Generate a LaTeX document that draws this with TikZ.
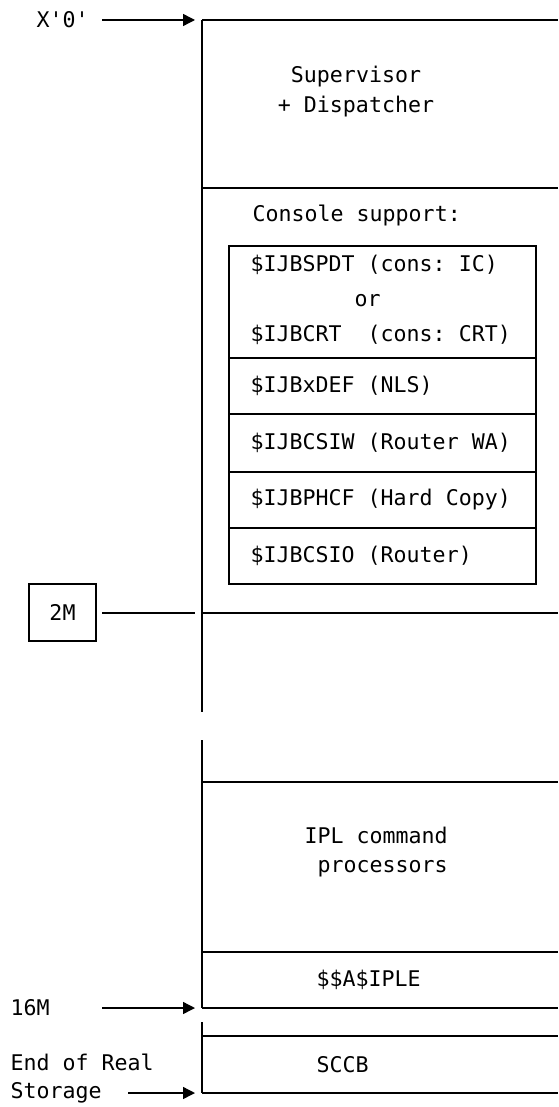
\documentclass[tikz,border=0pt]{standalone}
\usepackage{fontspec}
\setmonofont{DejaVu Sans Mono}
\usetikzlibrary{arrows.meta, positioning}

\begin{document}
\begin{tikzpicture}[
  x=0.5pt, y=-0.5pt, line width=0.7pt,
  txt/.style={inner sep=0pt, font=\ttfamily\fontsize{10.8}{15}\selectfont},
  ltxt/.style={txt, anchor=west, align=left},
  ptr/.style={-{Triangle[length=6pt, width=6pt]}}
]
  \useasboundingbox (0,0) rectangle (558,1107);

  % corners of the storage column
  \coordinate (m0) at (202,20);
  \coordinate (m2) at (202,613);
  \coordinate (m16) at (202,1008);
  \coordinate (mend) at (202,1093);

  % storage column
  \draw (m0) -- (558,20);
  \draw (m0) -- (202,712);
  \draw (202,740) -- (m16);
  \draw (202,1022) -- (mend);
  \draw (202,188) -- (558,188);
  \draw (m2) -- (558,613);
  \draw (202,782) -- (558,782);
  \draw (202,952) -- (558,952);
  \draw (m16) -- (558,1008);
  \draw (202,1036) -- (558,1036);
  \draw (mend) -- (558,1093);

  % console support modules
  \draw (229,246) rectangle (536,584);
  \foreach \y in {358,414,472,528}
    \draw (229,\y) -- (536,\y);

  \node[txt, align=center] (sup) at (356,92) {Supervisor\\+ Dispatcher};
  \node[ltxt] (con) at (252,215) {Console support:};
  \node[ltxt, font=\ttfamily\fontsize{10.8}{17.5}\selectfont] (spdt) at (250,300)
    {\$IJBSPDT (cons: IC)\\\hphantom{\$IJBSPDT}or\\\$IJBCRT\ \ (cons: CRT)};
  \node[ltxt] (xdef) at (250,386) {\$IJBxDEF (NLS)};
  \node[ltxt] (csiw) at (250,443) {\$IJBCSIW (Router WA)};
  \node[ltxt] (phcf) at (250,500) {\$IJBPHCF (Hard Copy)};
  \node[ltxt] (csio) at (250,556) {\$IJBCSIO (Router)};
  \node[ltxt, font=\ttfamily\fontsize{10.8}{14.5}\selectfont] (ipl) at (304,852)
    {IPL command\\\hphantom{I}processors};
  \node[ltxt] (iple) at (316,980) {\$\$A\$IPLE};
  \node[ltxt] (sccb) at (316,1065) {SCCB};

  % addresses
  \node[ltxt] (x0) at (36,20) {X'0'};
  \node[txt, draw, minimum width=33.5pt, minimum height=28.5pt] (twom) at (62.5,612.5) {2M};
  \node[ltxt] (sixm) at (10,1008) {16M};
  \node[ltxt, font=\ttfamily\fontsize{10.8}{14}\selectfont] (eors) at (10,1079)
    {End of Real\\Storage};

  \coordinate (x0s) at (102,20);
  \coordinate (twoms) at (102,613);
  \coordinate (sixms) at (102,1008);
  \coordinate (eorss) at (128,1093);

  \draw[ptr] (x0s) -- ([xshift=-3.5pt]m0);
  \draw (twoms) -- ([xshift=-3.5pt]m2);
  \draw[ptr] (sixms) -- ([xshift=-3.5pt]m16);
  \draw[ptr] (eorss) -- ([xshift=-3.5pt]mend);
\end{tikzpicture}
\end{document}
